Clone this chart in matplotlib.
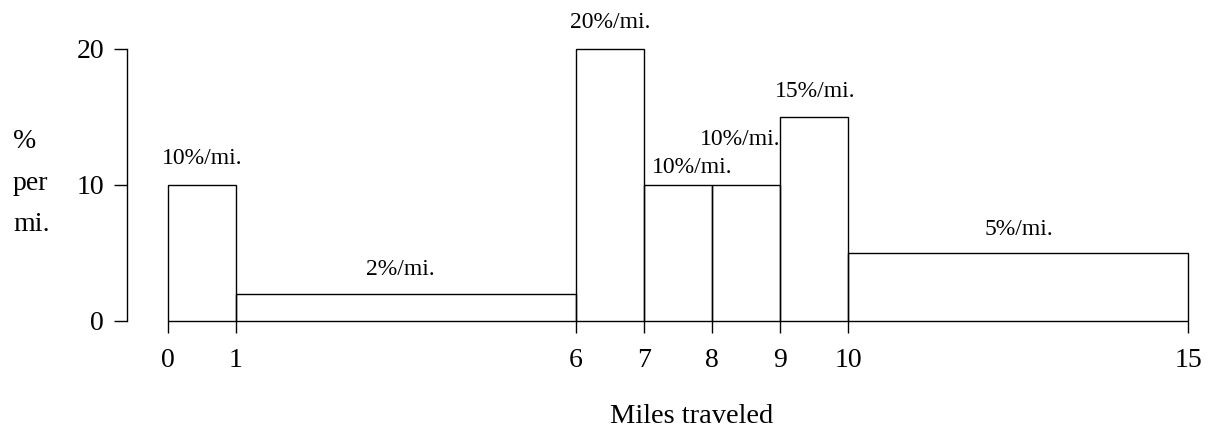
import matplotlib
matplotlib.use("Agg")
import matplotlib.pyplot as plt

# Data
bin_edges = [0, 1, 6, 7, 8, 9, 10, 15]
heights = [10, 2, 20, 10, 10, 15, 5]          # % per mile
bar_labels = ["10%/mi.", "2%/mi.", "20%/mi.", "10%/mi.", "10%/mi.", "15%/mi.", "5%/mi."]
y_ticks = [0, 10, 20]
x_ticks = [0, 1, 6, 7, 8, 9, 10, 15]

# label offsets (pixels) relative to bar top-center (style only)
label_dx = [0, -6, 0, 14, -6, 1, 1]
label_dy = [21, 19, 21, 12, 40, 20, 18]

plt.rcParams['font.family'] = ['Liberation Serif', 'DejaVu Serif']

W, H = 1210, 428
fig = plt.figure(figsize=(W / 100, H / 100), dpi=100)
left_px, right_px, top_px, bot_px = 127, 1200, 49, 321
ax = fig.add_axes([left_px / W, (H - bot_px) / H, (right_px - left_px) / W, (bot_px - top_px) / H])

lefts = bin_edges[:-1]
widths = [b - a for a, b in zip(bin_edges[:-1], bin_edges[1:])]
bars = ax.bar(lefts, heights, width=widths, align='edge', fill=False,
              edgecolor='black', linewidth=1.0)
for b in bars:
    b.set_clip_on(False)

x0_px, px_per_mi = 168, 68
ax.set_xlim((left_px - x0_px) / px_per_mi, (right_px - x0_px) / px_per_mi)
ax.set_ylim(0, 20)

for sp in ['top', 'right', 'bottom']:
    ax.spines[sp].set_visible(False)
ax.spines['left'].set_linewidth(1.0)

ax.set_yticks(y_ticks)
ax.set_xticks(x_ticks)
ax.tick_params(axis='y', direction='out', length=9.4, width=1.0, pad=7, labelsize=20)
ax.tick_params(axis='x', direction='out', length=8.6, width=1.0, pad=11, labelsize=20)

for a, w, h, lab, dx, dy in zip(lefts, widths, heights, bar_labels, label_dx, label_dy):
    ax.annotate(lab, xy=(a + w / 2, h), xytext=(dx, dy), textcoords='offset pixels',
                ha='center', va='baseline', fontsize=17, annotation_clip=False)

fig.text(692 / W, (H - 423) / H, "Miles traveled", ha='center', va='baseline', fontsize=20.5)
fig.text(13 / W, 1 - 183 / H, "%\nper\nmi.", ha='left', va='center', fontsize=20,
         linespacing=1.85)

fig.savefig("out.png", dpi=100)
